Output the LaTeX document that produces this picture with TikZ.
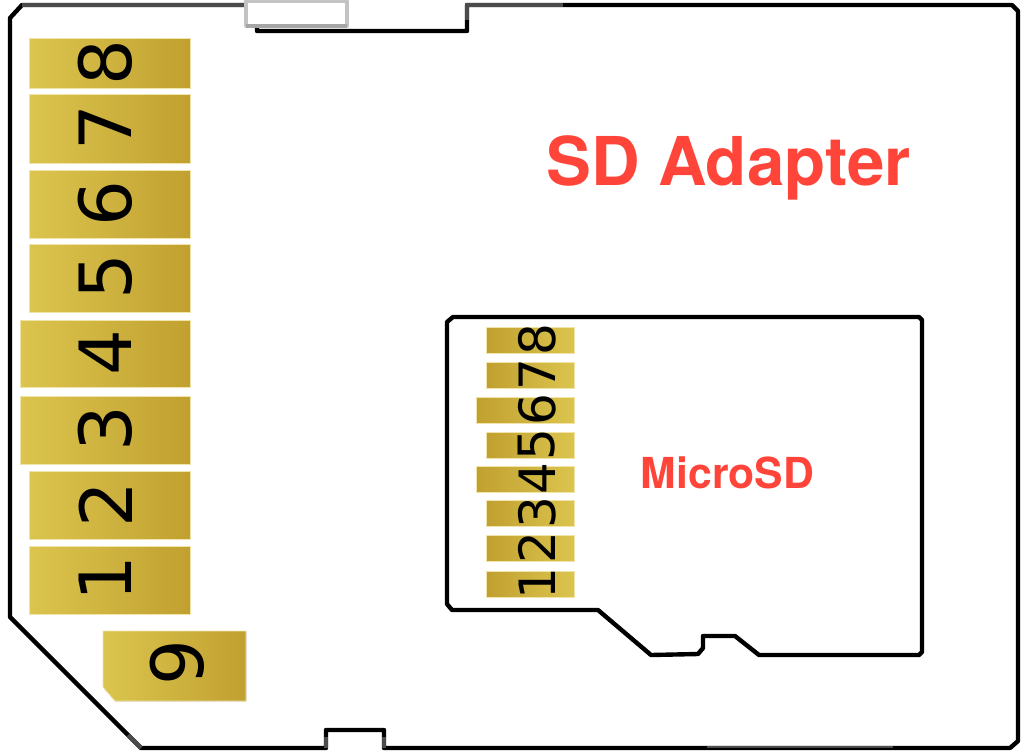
\documentclass[tikz,border=0pt]{standalone}
\usepackage{fontspec}
\setmainfont{DejaVu Sans}
\newfontfamily\labelfont{TeX Gyre Heros}
\definecolor{goldlight}{RGB}{219,197,78}
\definecolor{golddark}{RGB}{193,160,48}
\definecolor{padedge}{RGB}{240,228,170}
\definecolor{labelred}{RGB}{255,69,58}
\definecolor{tabgray}{RGB}{195,195,195}
\definecolor{edgegray}{RGB}{75,75,75}
\tikzset{
  outline/.style={line width=2.5pt, line join=round, black},
  grayedge/.style={edgegray, line width=2.5pt},
  padleft/.style={left color=goldlight, right color=golddark, draw=padedge, line width=0.4pt},
  padright/.style={left color=golddark, right color=goldlight, draw=padedge, line width=0.4pt},
  bignum/.style={rotate=90, font=\fontsize{41pt}{42pt}\selectfont, inner sep=0pt},
  smallnum/.style={rotate=90, font=\fontsize{28.5pt}{29pt}\selectfont, inner sep=0pt},
}
\begin{document}
\begin{tikzpicture}[x=0.02cm, y=-0.02cm]
\useasboundingbox (0,0) rectangle (1024,751);

% adapter body
\draw [outline] (247,5) -- (22,5) -- (10,18) -- (10,617) -- (141,748) -- (326,748) -- (326,730) -- (384,730) -- (384,748) -- (1010,748) -- (1018,741) -- (1018,11) -- (1012,5) -- (467,5) -- (467,31) -- (257,31) -- (257,26);
\draw [grayedge] (245,5) -- (22,5);
\draw [grayedge] (563,5) -- (467,5) -- (467,20);
\draw [grayedge] (128,735) -- (141,748);
\draw [grayedge] (326,748) -- (326,737);
\draw [grayedge] (384,748) -- (384,737);
\draw [grayedge, line width=1.2pt] (707,747) -- (893,747);
\draw [line width=1.8pt, tabgray, fill=white, line join=round] (246,1) rectangle (347,26);
\draw [line width=1.8pt, black!35] (246,26) -- (347,26);

% big pads
\fill [padleft] (29,38) rectangle (190,88);
\fill [padleft] (29,94) rectangle (190,163);
\fill [padleft] (29,170) rectangle (190,238);
\fill [padleft] (29,244) rectangle (190,312);
\fill [padleft] (20,320) rectangle (190,387);
\fill [padleft] (20,396) rectangle (190,464);
\fill [padleft] (29,471) rectangle (190,539);
\fill [padleft] (29,546) rectangle (190,614);
\fill [padleft] (103,631) -- (246,631) -- (246,701) -- (115,701) -- (103,687) -- cycle;

\node [bignum] (num8) at (105.5,63) {8};
\node [bignum] (num7) at (105.5,128) {7};
\node [bignum] (num6) at (105.5,204) {6};
\node [bignum] (num5) at (105.5,277) {5};
\node [bignum] (num4) at (105.5,353) {4};
\node [bignum] (num3) at (105.5,429) {3};
\node [bignum] (num2) at (105.5,505) {2};
\node [bignum] (num1) at (105.5,579) {1};
\node [bignum] (num9) at (177,663) {9};

% microsd card
\draw [outline] (447,325) -- (447,322) -- (453,317) -- (919,317) -- (922,320) -- (922,652) -- (919,655) -- (759,655) -- (735,636) -- (703,636) -- (703,648) -- (698,654) -- (651,655) -- (598,610) -- (452,610) -- (447,604) -- cycle;

\fill [padright] (486.5,327.5) rectangle (574.5,353.5);
\fill [padright] (486.5,362) rectangle (574.5,388);
\fill [padright] (476.5,397) rectangle (574.5,423);
\fill [padright] (486.5,432) rectangle (574.5,458);
\fill [padright] (476.5,466) rectangle (574.5,492.5);
\fill [padright] (486.5,500) rectangle (574.5,526);
\fill [padright] (486.5,535.5) rectangle (574.5,561.5);
\fill [padright] (486.5,571) rectangle (574.5,597);

\node [smallnum] (sub8) at (537,340) {8};
\node [smallnum] (sub7) at (537,375) {7};
\node [smallnum] (sub6) at (537,410) {6};
\node [smallnum] (sub5) at (537,445) {5};
\node [smallnum] (sub4) at (537,479) {4};
\node [smallnum] (sub3) at (537,513) {3};
\node [smallnum] (sub2) at (537,548) {2};
\node [smallnum] (sub1) at (537,584) {1};

% labels
\node [labelred, inner sep=0pt, font=\labelfont\bfseries\fontsize{38.3pt}{39pt}\selectfont] (adapter) at (728.5,168) {SD Adapter};
\node [labelred, inner sep=0pt, font=\labelfont\bfseries\fontsize{24.3pt}{25pt}\selectfont] (micro) at (727.5,473) {MicroSD};

\end{tikzpicture}
\end{document}
